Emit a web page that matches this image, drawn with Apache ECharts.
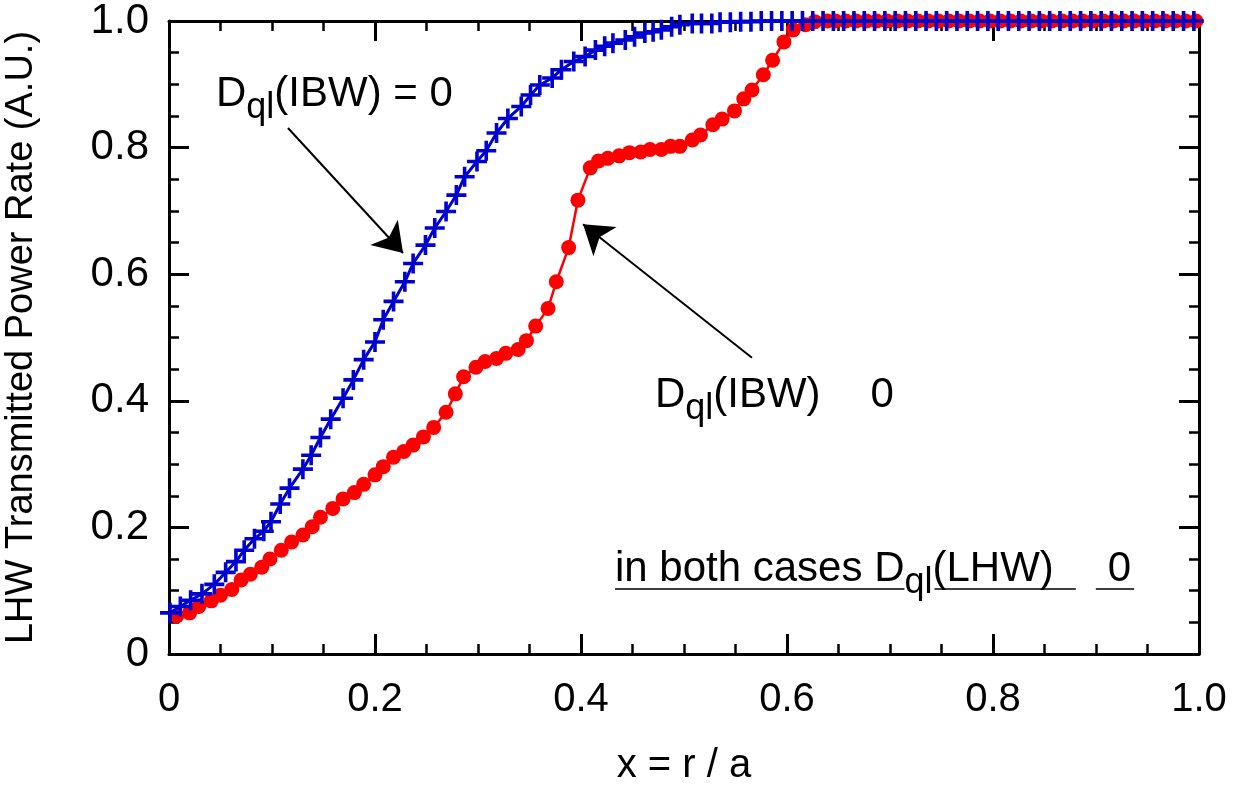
<!DOCTYPE html>
<html><head><meta charset="utf-8">
<script src="https://cdn.jsdelivr.net/npm/echarts@6/dist/echarts.min.js"></script>
<style>html,body{margin:0;padding:0;background:#fff}#c{width:1237px;height:786px}</style>
</head><body><div id="c"></div>
<script>
// ---- data ----
const xTickLabels = ['0', '0.2', '0.4', '0.6', '0.8', '1.0'];
const yTickLabels = ['0', '0.2', '0.4', '0.6', '0.8', '1.0'];
const xTitle = 'x = r / a';
const yTitle = 'LHW Transmitted Power Rate (A.U.)';

// D_ql(IBW) = 0  (blue, + markers)
const blueX = [0.001,0.011,0.021,0.032,0.044,0.055,0.065,0.073,0.083,0.092,0.099,0.108,0.117,0.130,0.138,0.147,0.157,0.169,0.179,0.189,
  0.200,0.208,0.218,0.229,0.237,0.249,0.258,0.269,0.279,0.287,0.299,0.308,0.318,0.329,0.342,0.351,0.360,0.372,0.381,0.393,
  0.404,0.414,0.423,0.431,0.443,0.452,0.462,0.470,0.478,0.488,0.496,0.508,0.517,0.527,0.535,0.545,0.555,0.565,0.575,0.585,
  0.595,0.605,0.615,0.625,0.635,0.645,0.655,0.665,0.675,0.685,0.695,0.705,0.715,0.725,0.735,0.745,0.755,0.765,0.775,0.785,
  0.795,0.805,0.815,0.825,0.835,0.845,0.855,0.865,0.875,0.885,0.895,0.905,0.915,0.925,0.935,0.945,0.955,0.965,0.975,0.985,0.995];
const blueY = [0.065,0.075,0.085,0.095,0.110,0.129,0.146,0.164,0.182,0.194,0.209,0.237,0.262,0.292,0.314,0.342,0.371,0.404,0.433,0.465,
  0.493,0.528,0.557,0.588,0.617,0.646,0.673,0.699,0.725,0.754,0.778,0.795,0.823,0.846,0.865,0.883,0.899,0.910,0.923,0.936,
  0.944,0.954,0.960,0.965,0.970,0.975,0.981,0.983,0.986,0.991,0.994,0.996,0.996,0.996,0.998,0.998,0.999,0.999,1.0,1.0,
  1.0,1.0,1.0,1.0,1.0,1.0,1.0,1.0,1.0,1.0,1.0,1.0,1.0,1.0,1.0,1.0,1.0,1.0,1.0,1.0,
  1.0,1.0,1.0,1.0,1.0,1.0,1.0,1.0,1.0,1.0,1.0,1.0,1.0,1.0,1.0,1.0,1.0,1.0,1.0,1.0,1.0];

// D_ql(IBW) != 0  (red, dots)
const redX = [0.0075,0.020,0.029,0.041,0.050,0.061,0.070,0.079,0.090,0.098,0.109,0.119,0.130,0.139,0.147,0.159,0.169,0.180,0.189,0.200,
  0.208,0.218,0.228,0.237,0.247,0.257,0.269,0.278,0.286,0.298,0.307,0.318,0.327,0.339,0.347,0.356,0.368,0.376,0.388,0.397,
  0.409,0.417,0.426,0.437,0.447,0.458,0.467,0.478,0.487,0.496,0.508,0.516,0.528,0.537,0.549,0.558,0.566,0.577,0.586,0.597,
  0.606,0.618,0.627,0.639,0.647,0.657,0.667,0.677,0.687,0.697,0.707,0.717,0.727,0.737,0.747,0.757,0.767,0.777,0.787,0.797,
  0.807,0.817,0.827,0.837,0.847,0.857,0.867,0.877,0.887,0.897,0.907,0.917,0.927,0.937,0.947,0.957,0.967,0.977,0.987,0.997];
const redY = [0.060,0.065,0.075,0.084,0.093,0.102,0.117,0.126,0.137,0.150,0.164,0.177,0.188,0.201,0.216,0.230,0.245,0.255,0.268,0.283,
  0.296,0.311,0.320,0.330,0.343,0.358,0.382,0.411,0.438,0.453,0.462,0.467,0.475,0.481,0.495,0.518,0.546,0.588,0.642,0.717,
  0.768,0.779,0.783,0.787,0.792,0.793,0.797,0.797,0.802,0.802,0.812,0.820,0.836,0.845,0.858,0.877,0.891,0.915,0.938,0.967,
  0.986,0.994,0.999,1.0,1.0,1.0,1.0,1.0,1.0,1.0,1.0,1.0,1.0,1.0,1.0,1.0,1.0,1.0,1.0,1.0,
  1.0,1.0,1.0,1.0,1.0,1.0,1.0,1.0,1.0,1.0,1.0,1.0,1.0,1.0,1.0,1.0,1.0,1.0,1.0,1.0];

// ---- chart ----
const FONT = "'Liberation Sans', Arial, Helvetica, sans-serif";
const chart = echarts.init(document.getElementById('c'), null, {renderer: 'canvas'});
const zip = (xs, ys) => xs.map((x, i) => [x, ys[i]]);
const PLUS = 'path://M4.1,0H5.9V4.1H10V5.9H5.9V10H4.1V5.9H0V4.1H4.1Z';

function axisCommon(labels, show) {
  return {
    type: 'value', min: 0, max: 1, interval: 0.2,
    axisLine: {show: true, onZero: false, lineStyle: {color: '#000', width: 3}},
    axisTick: {show: true, inside: true, length: 20, lineStyle: {color: '#000', width: 3}},
    minorTick: {show: true, splitNumber: 4, length: 10, lineStyle: {color: '#000', width: 2.5}},
    splitLine: {show: false}, minorSplitLine: {show: false},
    axisLabel: {show: show, color: '#000', fontSize: 40, fontFamily: FONT,
      formatter: v => labels[Math.round(v / 0.2)]}
  };
}

const xb = Object.assign(axisCommon(xTickLabels, true), {position: 'bottom', name: xTitle, nameLocation: 'middle', nameGap: 92,
  nameTextStyle: {fontSize: 40, fontFamily: FONT, color: '#000'}});
xb.axisLabel.margin = 26;
const xt = Object.assign(axisCommon(xTickLabels, false), {position: 'top'});
const yl = Object.assign(axisCommon(yTickLabels, true), {position: 'left', name: yTitle, nameLocation: 'middle', nameGap: 128,
  nameTextStyle: {fontSize: 38, fontFamily: FONT, color: '#000'}});
yl.axisLabel.margin = 20;
yl.axisLabel.fontSize = 42;
const yr = Object.assign(axisCommon(yTickLabels, false), {position: 'right'});

chart.setOption({
  animation: false,
  backgroundColor: '#fff',
  grid: {left: 169, top: 21, right: 38, bottom: 132, containLabel: false, outerBoundsMode: 'none'},
  xAxis: [xb, xt],
  yAxis: [yl, yr],
  series: [
    {
      type: 'line', name: 'red', data: zip(redX, redY), xAxisIndex: 0, yAxisIndex: 0,
      symbol: 'circle', symbolSize: 15, showSymbol: true, showAllSymbol: true,
      lineStyle: {color: '#ff0000', width: 2.5}, itemStyle: {color: '#ff0000'}, z: 3,
      markLine: {
        silent: true, symbol: ['none', 'arrow'], symbolSize: 28, label: {show: false},
        lineStyle: {color: '#000', width: 2, type: 'solid'},
        data: [
          [{coord: [0.566, 0.468], symbol: 'none'}, {coord: [0.402, 0.679], symbol: 'arrow', symbolSize: 28}],
          [{coord: [0.1155, 0.831], symbol: 'none'}, {coord: [0.2272, 0.6335], symbol: 'arrow', symbolSize: 28}]
        ]
      }
    },
    {
      type: 'line', name: 'blue', data: zip(blueX, blueY), xAxisIndex: 0, yAxisIndex: 0,
      symbol: PLUS, symbolSize: 20, showSymbol: true, showAllSymbol: true,
      lineStyle: {color: '#0000d0', width: 3}, itemStyle: {color: '#0000d0'}, z: 4
    }
  ]
});

// ---- annotations (text with subscripts) ----
const ctx = document.createElement('canvas').getContext('2d');
function tw(t, size) { ctx.font = size + 'px ' + FONT; return ctx.measureText(t).width; }
const P = (x, y) => chart.convertToPixel({gridIndex: 0}, [x, y]);
const g = [];
function textRun(x0, baseY, parts) {
  let x = x0;
  parts.forEach(p => {
    const yMid = baseY + (p.dy || 0) - 0.35 * p.size;
    g.push({type: 'text', x: x, y: yMid, z: 100,
      style: {text: p.t, font: p.size + 'px ' + FONT, fill: '#000',
        textAlign: 'left', align: 'left', textVerticalAlign: 'middle', verticalAlign: 'middle'}});
    x += tw(p.t, p.size);
  });
  return x;
}
// annotation 1
let a1 = P(0.0456, 0.861);
textRun(a1[0], a1[1], [{t: 'D', size: 42}, {t: 'ql', size: 36, dy: 12}, {t: '(IBW) = 0', size: 42}]);
// annotation 2
let a2 = P(0.4718, 0.3855);
let e2 = textRun(a2[0], a2[1], [{t: 'D', size: 42}, {t: 'ql', size: 36, dy: 12}, {t: '(IBW)', size: 42}]);
textRun(e2 + 50, a2[1], [{t: '0', size: 42}]);
// annotation 3 (underlined)
let a3 = P(0.433, 0.1106);
let s3 = a3[0];
let e3a = textRun(s3, a3[1], [{t: 'in both cases D', size: 42}]);
let e3b = textRun(e3a, a3[1], [{t: 'ql', size: 36, dy: 12}]);
let e3c = textRun(e3b, a3[1], [{t: '(LHW)', size: 42}]);
let zx = e3c + 54;
textRun(zx, a3[1], [{t: '0', size: 42}]);
const uy = a3[1] + 5;
[[s3, e3a], [e3b + 2, e3c + 22], [zx - 12, zx + tw('0', 42) + 3]].forEach(sg => {
  g.push({type: 'line', z: 100, shape: {x1: sg[0], y1: uy, x2: sg[1], y2: uy}, style: {stroke: '#000', lineWidth: 1.5}});
});
chart.setOption({graphic: g});
</script>
</body></html>
